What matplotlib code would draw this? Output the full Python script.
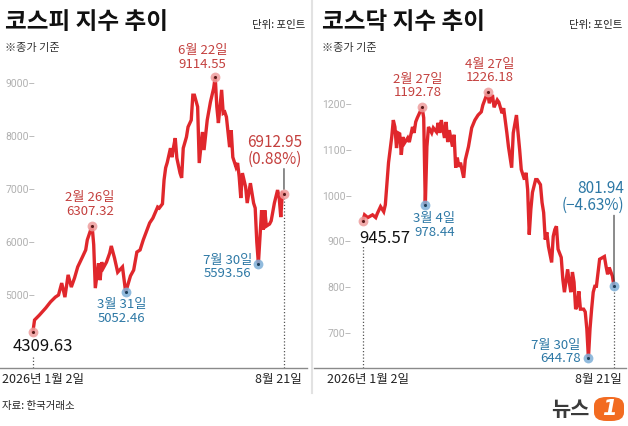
import matplotlib
matplotlib.use('Agg')
import matplotlib.pyplot as plt
from matplotlib.patches import FancyBboxPatch
from matplotlib.lines import Line2D

plt.rcParams['font.family'] = ['Noto Sans CJK KR', 'DejaVu Sans']

W, H = 628, 426

# ---------------- data ----------------
kospi_days = [0, 1, 4, 8, 11, 14, 16, 18, 20, 22,
              24, 26, 28, 31, 33, 34, 37, 38, 39, 41,
              42, 43, 44, 46, 48, 49, 51, 53, 56, 58,
              61, 63, 65, 67, 69, 72, 73, 75, 78, 79,
              81, 82, 83, 84, 86, 87, 88, 89, 90, 92,
              93, 94, 96, 97, 99, 100, 101, 103, 104, 106,
              107, 109, 111, 113, 114, 115, 116, 118, 119, 120,
              121, 123, 124, 125, 127, 128, 129, 130, 131, 133,
              134, 136, 138, 139, 140, 141, 143, 144, 145, 146,
              148, 149, 151, 153, 154, 155, 156, 157]
kospi_vals = [4309.63, 4528, 4620, 4755, 4870, 4960, 5000, 5225, 4960, 5380,
              5150, 5320, 5530, 5720, 5850, 6040, 6307.32, 5950, 5130, 5600,
              5280, 5620, 5510, 5620, 5790, 5925, 5700, 5430, 5530, 5052.46,
              5360, 5470, 5810, 5850, 6040, 6280, 6360, 6450, 6660, 6640,
              6720, 7170, 7400, 7500, 7770, 7600, 7800, 7960, 7585, 7300,
              7210, 7770, 7980, 8170, 8300, 8770, 8770, 8550, 7490, 8075,
              7735, 8300, 8640, 8900, 9114.55, 8550, 8245, 8870, 8430, 8450,
              8360, 7790, 8110, 7600, 7415, 7490, 7225, 6830, 7300, 7040,
              6735, 7110, 6735, 6640, 6000, 5593.56, 6600, 6230, 6600, 6300,
              6340, 6400, 6735, 6980, 6840, 6470, 6925, 6912.95]

kosdaq_days = [0, 1, 3, 6, 8, 9, 11, 13, 14, 16,
               18, 19, 20, 21, 22, 23, 24, 25, 26, 28,
               29, 31, 32, 33, 34, 37, 38, 39, 40, 41,
               43, 44, 46, 47, 48, 49, 51, 52, 53, 54,
               56, 57, 58, 59, 60, 61, 63, 64, 66, 68,
               70, 72, 74, 75, 78, 79, 81, 82, 84, 85,
               87, 88, 90, 91, 93, 94, 96, 97, 98, 99,
               101, 102, 103, 104, 105, 106, 108, 109, 111, 112,
               113, 114, 115, 116, 118, 119, 120, 121, 122, 124,
               125, 126, 128, 129, 130, 131, 132, 133, 134, 135,
               136, 138, 139, 140, 141, 142, 143, 144, 145, 146,
               148, 150, 151, 152, 153, 154, 156, 157]
kosdaq_vals = [945.57, 958, 952, 958, 952, 961, 976, 965, 980, 1072,
               1128, 1165, 1150, 1104, 1137, 1135, 1089, 1128, 1115, 1126,
               1117, 1150, 1137, 1161, 1170, 1192.78, 1170, 978.44, 1107, 1150,
               1137, 1148, 1139, 1159, 1137, 1165, 1126, 1161, 1117, 1143,
               1107, 1133, 1061, 1083, 1063, 1072, 1039, 1078, 1107, 1148,
               1165, 1176, 1183, 1198, 1226.18, 1202, 1220, 1193, 1209, 1204,
               1180, 1191, 1137, 1107, 1061, 1137, 1176, 1137, 1100, 1057,
               1035, 1050, 1013, 915, 970, 1007, 1035, 1035, 1024, 985,
               963, 904, 920, 889, 854, 911, 926, 933, 883, 865,
               817, 789, 839, 811, 789, 833, 811, 752, 759, 791,
               752, 752, 746, 709, 644.78, 709, 752, 789, 802, 802,
               861, 865, 867, 846, 828, 843, 824, 801.94]

kospi_yticks = [5000, 6000, 7000, 8000, 9000]
kosdaq_yticks = [700, 800, 900, 1000, 1100, 1200]

kospi_high_labels = [(37, 6307.32, '2월 26일'), (114, 9114.55, '6월 22일')]
kospi_low_labels = [(58, 5052.46, '3월 31일'), (141, 5593.56, '7월 30일')]
kosdaq_high_labels = [(37, 1192.78, '2월 27일'), (78, 1226.18, '4월 27일')]
kosdaq_low_labels = [(39, 978.44, '3월 4일'), (141, 644.78, '7월 30일')]
kospi_change = '(0.88%)'
kosdaq_change = '(−4.63%)'
start_label = '2026년 1월 2일'
end_label = '8월 21일'

# ---------------- style ----------------
RED_LINE = '#e0272c'
RED_TXT = '#c4403e'
BLUE_TXT = '#2d78a5'
RED_MK = '#ee9c9c'
BLUE_MK = '#7eb0d8'
GRAY_TICK = '#b0b0b0'


def fx(px):
    return px / W


def fy(py):
    return 1 - py / H


fig = plt.figure(figsize=(W / 100, H / 100), dpi=100)
fig.patch.set_facecolor('white')


def make_ax(left, right, top, bottom, xlim, ylim, yticks, pad):
    ax = fig.add_axes([fx(left), fy(bottom), (right - left) / W, (bottom - top) / H])
    ax.set_xlim(*xlim)
    ax.set_ylim(*ylim)
    for s in ['top', 'right', 'left']:
        ax.spines[s].set_visible(False)
    ax.spines['bottom'].set_color('#8a8a8a')
    ax.spines['bottom'].set_linewidth(1.0)
    ax.set_xticks([])
    ax.set_yticks(yticks)
    ax.set_yticklabels([f'{v}–' for v in yticks])
    ax.tick_params(axis='y', length=0, pad=pad, labelsize=7.5, labelcolor=GRAY_TICK)
    for t in ax.get_yticklabels():
        t.set_family(['Roboto', 'DejaVu Sans'])
    ax.patch.set_alpha(0)
    return ax


def marker(ax, d, v, color):
    ax.scatter([d], [v], s=50, color=color, alpha=0.85, zorder=5, linewidths=0)
    ax.scatter([d], [v], s=5, color='#5a1a1a' if color == RED_MK else '#1d3f5a', zorder=6, linewidths=0)


def dotted_down(ax, d, v, gap_px=0):
    y0 = ax.get_ylim()[0]
    disp = ax.transData.transform((d, v))
    top = ax.transData.inverted().transform((disp[0], disp[1] - gap_px))[1]
    ax.plot([d, d], [y0, top], color='#555555', lw=0.9, ls=(0, (1, 1.6)), zorder=2, clip_on=False)


# ---------------- KOSPI ----------------
ax1 = make_ax(0, 307, 40, 368, (-20.6, 171.4), (3623, 9811), kospi_yticks, -25.5)
ax1.plot(kospi_days, kospi_vals, color=RED_LINE, lw=2.4, solid_joinstyle='miter', zorder=3)

for d, v, lab in kospi_high_labels:
    marker(ax1, d, v, RED_MK)
for d, v, lab in kospi_low_labels:
    marker(ax1, d, v, BLUE_MK)
marker(ax1, kospi_days[0], kospi_vals[0], RED_MK)
marker(ax1, kospi_days[-1], kospi_vals[-1], RED_MK)

lab_fs = 9.5
(d, v, lab) = kospi_high_labels[0]
ax1.annotate(f'{lab}\n{v:.2f}', (d, v), xytext=(-2, 8), textcoords='offset pixels',
             ha='center', va='bottom', fontsize=lab_fs, color=RED_TXT, linespacing=1.05)
(d, v, lab) = kospi_high_labels[1]
ax1.annotate(f'{lab}\n{v:.2f}', (d, v), xytext=(-13, 6), textcoords='offset pixels',
             ha='center', va='bottom', fontsize=lab_fs, color=RED_TXT, linespacing=1.05)
(d, v, lab) = kospi_low_labels[0]
ax1.annotate(f'{lab}\n{v:.2f}', (d, v), xytext=(-4, -6), textcoords='offset pixels',
             ha='center', va='top', fontsize=lab_fs, color=BLUE_TXT, linespacing=1.05)
(d, v, lab) = kospi_low_labels[1]
ax1.annotate(f'{lab}\n{v:.2f}', (d, v), xytext=(-31, 10), textcoords='offset pixels',
             ha='center', va='top', fontsize=lab_fs, color=BLUE_TXT, linespacing=1.05)

ax1.annotate(f'{kospi_vals[0]:.2f}', (kospi_days[0], kospi_vals[0]), xytext=(10, -6),
             textcoords='offset pixels', ha='center', va='top', fontsize=12, color='#111111')
dotted_down(ax1, kospi_days[0], kospi_vals[0], gap_px=23)

ax1.annotate(f'{kospi_vals[-1]:.2f}\n{kospi_change}', (kospi_days[-1], kospi_vals[-1]),
             xytext=(18, 26), textcoords='offset pixels', ha='right', va='bottom',
             fontsize=11, color=RED_TXT, linespacing=1.0, multialignment='right')
ax1.annotate('', (kospi_days[-1], kospi_vals[-1]), xytext=(0, 25), textcoords='offset pixels',
             arrowprops=dict(arrowstyle='-', color='#333333', lw=0.8, shrinkA=0, shrinkB=3))
dotted_down(ax1, kospi_days[-1], kospi_vals[-1], gap_px=3)

# ---------------- KOSDAQ ----------------
ax2 = make_ax(314, 626, 40, 368, (-30.6, 164.5), (623.4, 1340), kosdaq_yticks, -27.5)
ax2.plot(kosdaq_days, kosdaq_vals, color=RED_LINE, lw=2.4, solid_joinstyle='miter', zorder=3)

for d, v, lab in kosdaq_high_labels:
    marker(ax2, d, v, RED_MK)
for d, v, lab in kosdaq_low_labels:
    marker(ax2, d, v, BLUE_MK)
marker(ax2, kosdaq_days[0], kosdaq_vals[0], RED_MK)
marker(ax2, kosdaq_days[-1], kosdaq_vals[-1], BLUE_MK)

(d, v, lab) = kosdaq_high_labels[0]
ax2.annotate(f'{lab}\n{v:.2f}', (d, v), xytext=(-4, 8), textcoords='offset pixels',
             ha='center', va='bottom', fontsize=lab_fs, color=RED_TXT, linespacing=1.05)
(d, v, lab) = kosdaq_high_labels[1]
ax2.annotate(f'{lab}\n{v:.2f}', (d, v), xytext=(2, 8), textcoords='offset pixels',
             ha='center', va='bottom', fontsize=lab_fs, color=RED_TXT, linespacing=1.05)
(d, v, lab) = kosdaq_low_labels[0]
ax2.annotate(f'{lab}\n{v:.2f}', (d, v), xytext=(9, -7), textcoords='offset pixels',
             ha='center', va='top', fontsize=lab_fs, color=BLUE_TXT, linespacing=1.05)
(d, v, lab) = kosdaq_low_labels[1]
ax2.annotate(f'{lab}\n{v:.2f}', (d, v), xytext=(-8, -7), textcoords='offset pixels',
             ha='right', va='bottom', fontsize=lab_fs, color=BLUE_TXT, linespacing=1.05,
             multialignment='right')

ax2.annotate(f'{kosdaq_vals[0]:.2f}', (kosdaq_days[0], kosdaq_vals[0]), xytext=(-4, -9),
             textcoords='offset pixels', ha='left', va='top', fontsize=12, color='#111111')
dotted_down(ax2, kosdaq_days[0], kosdaq_vals[0], gap_px=25)

ax2.annotate(f'{kosdaq_vals[-1]:.2f}\n{kosdaq_change}', (kosdaq_days[-1], kosdaq_vals[-1]),
             xytext=(10, 72), textcoords='offset pixels', ha='right', va='bottom',
             fontsize=11, color=BLUE_TXT, linespacing=1.0, multialignment='right')
ax2.annotate('', (kosdaq_days[-1], kosdaq_vals[-1]), xytext=(0, 71), textcoords='offset pixels',
             arrowprops=dict(arrowstyle='-', color='#333333', lw=0.8, shrinkA=0, shrinkB=3))
dotted_down(ax2, kosdaq_days[-1], kosdaq_vals[-1], gap_px=3)

# ---------------- titles & texts ----------------
fig.text(fx(5), fy(22), '코스피 지수 추이', fontsize=17, fontweight='bold', color='#111111', va='center')
fig.text(fx(322), fy(22), '코스닥 지수 추이', fontsize=17, fontweight='bold', color='#111111', va='center')
fig.text(fx(305), fy(25), '단위: 포인트', fontsize=7.5, color='#222222', ha='right', va='center')
fig.text(fx(622), fy(25), '단위: 포인트', fontsize=7.5, color='#222222', ha='right', va='center')
fig.text(fx(5), fy(48), '※종가 기준', fontsize=8, color='#333333', va='center')
fig.text(fx(322), fy(48), '※종가 기준', fontsize=8, color='#333333', va='center')

fig.text(fx(2), fy(380), start_label, fontsize=9, color='#222222', va='center')
fig.text(fx(302), fy(380), end_label, fontsize=9, color='#222222', va='center', ha='right')
fig.text(fx(327), fy(380), start_label, fontsize=9, color='#222222', va='center')
fig.text(fx(622), fy(380), end_label, fontsize=9, color='#222222', va='center', ha='right')
fig.text(fx(2), fy(406), '자료: 한국거래소', fontsize=7.5, color='#222222', va='center')

# divider between panels
fig.add_artist(Line2D([fx(312), fx(312)], [fy(0), fy(393)], color='#e2e2e2', lw=1.5))

# logo
fig.text(fx(589), fy(409), '뉴스', fontsize=15, fontweight='bold', color='#3a3a3a', ha='right', va='center')
logo = FancyBboxPatch((fx(594), fy(421)), fx(30), (421 - 397) / H,
                      boxstyle='round,pad=0,rounding_size=0.02', transform=fig.transFigure,
                      facecolor='#f26b21', edgecolor='none')
fig.add_artist(logo)
fig.text(fx(609), fy(409), '1', fontsize=15, fontweight='bold', color='white', ha='center', va='center',
         family=['DejaVu Sans'], style='italic')

fig.savefig('out.png', dpi=100, facecolor='white')
